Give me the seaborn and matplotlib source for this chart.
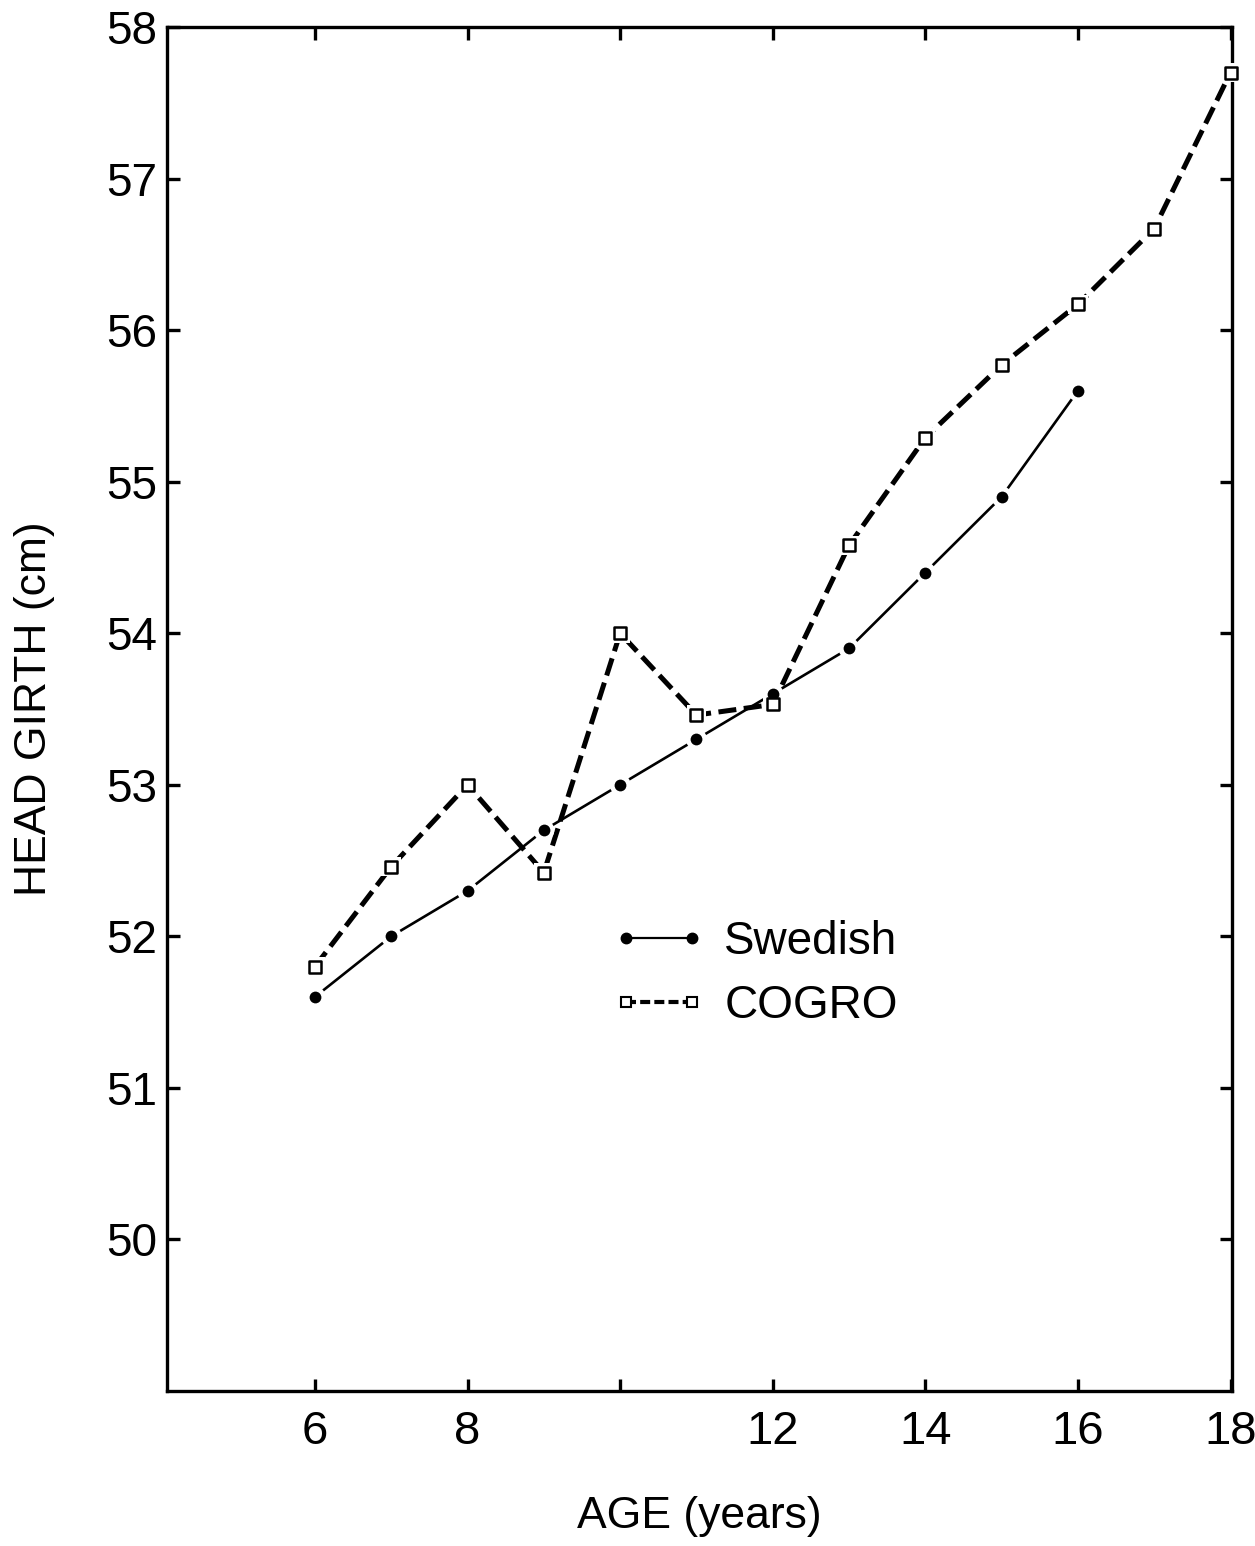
import matplotlib
matplotlib.use("Agg")
import matplotlib.pyplot as plt
from matplotlib.lines import Line2D
import pandas as pd
import seaborn as sns

# Head girth by age for two growth references
age_swedish = [6, 7, 8, 9, 10, 11, 12, 13, 14, 15, 16]
girth_swedish = [51.6, 52.0, 52.3, 52.7, 53.0, 53.3, 53.6, 53.9, 54.4, 54.9, 55.6]

age_cogro = [6, 7, 8, 9, 10, 11, 12, 13, 14, 15, 16, 17, 18]
girth_cogro = [51.8, 52.46, 53.0, 52.42, 54.0, 53.46, 53.53, 54.58, 55.29, 55.77,
               56.17, 56.67, 57.7]

x_ticks = [6, 8, 10, 12, 14, 16, 18]
x_tick_labels = ["6", "8", "", "12", "14", "16", "18"]
y_ticks = [50, 51, 52, 53, 54, 55, 56, 57, 58]
y_tick_labels = ["50", "51", "52", "53", "54", "55", "56", "57", "58"]

series_names = ["Swedish", "COGRO"]
x_label = "AGE (years)"
y_label = "HEAD GIRTH (cm)"

sns.set_style("ticks")
plt.rcParams["font.family"] = ["Liberation Sans", "DejaVu Sans"]
plt.rcParams["text.color"] = "black"
plt.rcParams["axes.labelcolor"] = "black"
plt.rcParams["xtick.color"] = "black"
plt.rcParams["ytick.color"] = "black"

swedish = pd.DataFrame({"age": age_swedish, "girth": girth_swedish})
cogro = pd.DataFrame({"age": age_cogro, "girth": girth_cogro})

fig = plt.figure(figsize=(12.55, 15.46), dpi=100)
ax = fig.add_axes([0.133, 0.1003, 0.8487, 0.8822])

# connecting lines
sns.lineplot(data=swedish, x="age", y="girth", ax=ax, color="black",
             linewidth=1.9, zorder=2, clip_on=False)
sns.lineplot(data=cogro, x="age", y="girth", ax=ax, color="black",
             linewidth=3.6, zorder=2, clip_on=False)
ax.lines[-1].set_dashes([3.6, 1.5])
ax.lines[-1].set_dash_capstyle("butt")

# white halos that open a small gap in the line around each point
sns.scatterplot(data=swedish, x="age", y="girth", ax=ax, marker="o", s=230,
                color="white", edgecolor="none", zorder=3, clip_on=False)
sns.scatterplot(data=cogro, x="age", y="girth", ax=ax, marker="s", s=200,
                color="white", edgecolor="none", zorder=3, clip_on=False)

# point markers
sns.scatterplot(data=swedish, x="age", y="girth", ax=ax, marker="o", s=72,
                color="black", edgecolor="black", linewidth=0, zorder=4, clip_on=False)
sns.scatterplot(data=cogro, x="age", y="girth", ax=ax, marker="s", s=78,
                color="white", edgecolor="black", linewidth=1.8, zorder=4, clip_on=False)

ax.set_xlim(4.06, 18.02)
ax.set_ylim(49.0, 58.0)
ax.set_xticks(x_ticks)
ax.set_xticklabels(x_tick_labels, fontsize=34)
ax.set_yticks(y_ticks)
ax.set_yticklabels(y_tick_labels, fontsize=33)

ax.tick_params(axis="both", direction="in", length=9, width=2.4, colors="black",
               labelcolor="black", top=True, right=True)
ax.tick_params(axis="x", pad=14)
ax.tick_params(axis="y", pad=7)
for side in ["left", "right", "top", "bottom"]:
    ax.spines[side].set_visible(True)
    ax.spines[side].set_linewidth(2.4)
    ax.spines[side].set_color("black")

ax.set_xlabel(x_label, fontsize=32, labelpad=30, color="black")
ax.set_ylabel(y_label, fontsize=32, labelpad=37, color="black")

handles = [
    Line2D([], [], color="black", linewidth=1.6, marker="o", markersize=7.5,
           markerfacecolor="black", markeredgecolor="black"),
    Line2D([], [], color="black", linewidth=3.0, linestyle=(0, (2.4, 1.0)),
           marker="s", markersize=7.5, markerfacecolor="white",
           markeredgecolor="black", markeredgewidth=1.5),
]
ax.legend(handles, series_names, loc="upper left", bbox_to_anchor=(0.418, 0.345),
          frameon=False, fontsize=33, numpoints=2, handlelength=2.05,
          handletextpad=0.4, labelspacing=0.42, borderpad=0, borderaxespad=0,
          labelcolor="black")

fig.savefig("out.png", dpi=100, facecolor="white")
